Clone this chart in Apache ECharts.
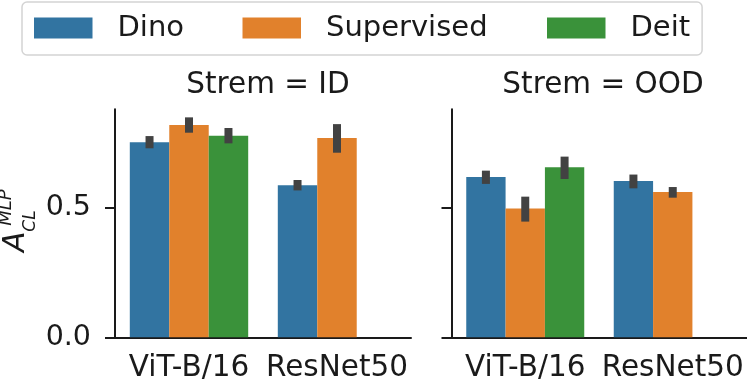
<!DOCTYPE html>
<html>
<head>
<meta charset="utf-8">
<script src="https://cdn.jsdelivr.net/npm/echarts@6/dist/echarts.min.js"></script>
<style>
  html, body { margin: 0; padding: 0; background: #fff; }
  #chart { width: 747px; height: 387px; }
</style>
</head>
<body>
<div id="chart"></div>
<script>
const categories = ["ViT-B/16", "ResNet50"];
const methods = ["Dino", "Supervised", "Deit"];
const streams = ["ID", "OOD"];

// mean accuracy, one value per category (null = no run)
const idDino = [0.750, 0.585];
const idSup = [0.817, 0.767];
const idDeit = [0.775, null];
const oodDino = [0.617, 0.601];
const oodSup = [0.495, 0.559];
const oodDeit = [0.654, null];

// confidence interval [low, high] per category
const idDinoErr = [[0.727, 0.774], [0.565, 0.605]];
const idSupErr = [[0.787, 0.846], [0.710, 0.820]];
const idDeitErr = [[0.746, 0.805], null];
const oodDinoErr = [[0.590, 0.641], [0.573, 0.626]];
const oodSupErr = [[0.445, 0.541], [0.537, 0.578]];
const oodDeitErr = [[0.609, 0.695], null];

const yTicks = [0, 0.5];
const yMax = 0.877;

const colors = ["#3274a1", "#e1812c", "#3a923a"];
const font = "DejaVu Sans";
const ink = "#1a1a1a";

const panels = [
  { means: [idDino, idSup, idDeit], errs: [idDinoErr, idSupErr, idDeitErr] },
  { means: [oodDino, oodSup, oodDeit], errs: [oodDinoErr, oodSupErr, oodDeitErr] },
];

function errRenderer(slot) {
  return function (params, api) {
    const top = api.coord([api.value(0), api.value(2)]);
    const bot = api.coord([api.value(0), api.value(1)]);
    const band = api.size([1, 0])[0];
    const x = top[0] + ((slot - 1) * band * 0.8) / 3;
    return {
      type: "line",
      shape: { x1: x, y1: bot[1], x2: x, y2: top[1] },
      style: { stroke: "#424242", lineWidth: 8 },
    };
  };
}

const series = [];
panels.forEach((p, g) => {
  methods.forEach((m, k) => {
    series.push({
      name: m,
      type: "bar",
      xAxisIndex: g,
      yAxisIndex: g,
      barGap: "0%",
      barCategoryGap: "20%",
      itemStyle: { color: colors[k] },
      data: p.means[k].map((v) => (v === null ? "-" : v)),
    });
  });
  methods.forEach((m, k) => {
    const data = [];
    p.errs[k].forEach((e, i) => {
      if (e) data.push([i, e[0], e[1]]);
    });
    series.push({
      name: m + " ci",
      type: "custom",
      xAxisIndex: g,
      yAxisIndex: g,
      encode: { x: 0, y: [1, 2] },
      renderItem: errRenderer(k),
      data: data,
      z: 5,
    });
  });
});

const axisLineStyle = { color: ink, width: 2 };

function xAxis(g) {
  return {
    type: "category",
    gridIndex: g,
    data: categories,
    axisLine: { lineStyle: axisLineStyle },
    axisTick: { alignWithLabel: true, length: 10, lineStyle: axisLineStyle },
    axisLabel: { interval: 0, hideOverlap: false, fontSize: 29.5, color: ink, fontFamily: font, margin: 16 },
  };
}

function yAxis(g) {
  return {
    type: "value",
    gridIndex: g,
    min: 0,
    max: yMax,
    interval: 0.5,
    splitLine: { show: false },
    axisLine: { show: true, lineStyle: axisLineStyle },
    axisTick: { show: true, length: 10, lineStyle: axisLineStyle, customValues: yTicks },
    axisLabel: {
      show: g === 0,
      fontSize: 28.5,
      color: ink,
      fontFamily: font,
      margin: 24,
      customValues: yTicks,
      formatter: (v) => v.toFixed(1),
    },
  };
}

const chart = echarts.init(document.getElementById("chart"));
chart.setOption({
  animation: false,
  legend: {
    left: 22,
    top: 2,
    padding: [11.5, 12, 12.5, 12],
    itemWidth: 58.5,
    itemHeight: 21,
    itemGap: 0,
    icon: "rect",
    borderColor: "#d4d4d4",
    borderWidth: 1.5,
    borderRadius: 5,
    backgroundColor: "#fff",
    textStyle: { fontSize: 29, color: ink, fontFamily: font, lineHeight: 21, padding: [0, 0, 0, 20] },
    data: [
      { name: "Dino", textStyle: { width: 125 } },
      { name: "Supervised", textStyle: { width: 221 } },
      { name: "Deit" },
    ],
  },
  title: streams.map((s, g) => ({
    text: "Strem = " + s,
    left: g === 0 ? 263 : 598,
    top: 65,
    textAlign: "center",
    textStyle: { fontSize: 29.5, fontWeight: "normal", color: ink, fontFamily: font },
  })),
  grid: [
    { left: 115, top: 109.3, width: 296, height: 228 },
    { left: 451.5, top: 109.3, width: 295, height: 228 },
  ],
  xAxis: [xAxis(0), xAxis(1)],
  yAxis: [yAxis(0), yAxis(1)],
  graphic: [
    {
      type: "group",
      x: 17,
      y: 257,
      rotation: Math.PI / 2,
      children: [
        { type: "text", x: 15.3, y: -0.3, style: { text: "A", fontSize: 30, fontStyle: "italic", fontFamily: font, fill: ink, align: "center", verticalAlign: "middle" } },
        { type: "text", x: 49.5, y: -10.5, style: { text: "MLP", fontSize: 18, fontStyle: "italic", fontFamily: font, fill: ink, align: "center", verticalAlign: "middle" } },
        { type: "text", x: 36, y: 14, style: { text: "CL", fontSize: 17, fontStyle: "italic", fontFamily: font, fill: ink, align: "center", verticalAlign: "middle" } },
      ],
    },
  ],
  series: series,
});
</script>
</body>
</html>
